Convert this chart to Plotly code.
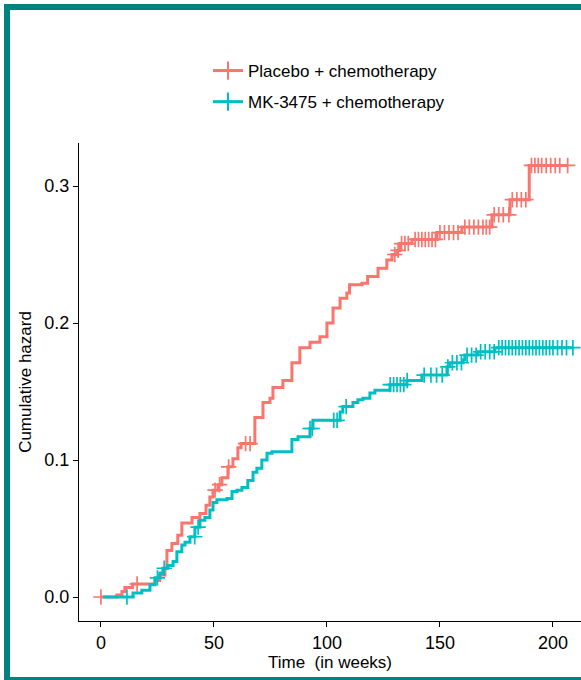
import numpy as np
import plotly.graph_objects as go

# Nelson-Aalen style cumulative hazard
placebo_time = [0, 7, 9.3, 10.6, 14, 24, 26, 28.3, 29.2, 31.4, 34, 35.8, 40.3, 43.8,
                46.5, 48.2, 49.6, 51.8, 53.5, 56.2, 58.4, 60.6, 62, 68.1, 71.7, 74.8,
                76.1, 80.5, 84.5, 88, 92.5, 96.9, 100, 102.7, 105.8, 108.8, 110, 115.5,
                118, 122.6, 126.5, 128.8, 131, 132.3, 137.6, 148.7, 159.7, 173, 181,
                189.5, 206.5]
placebo_haz = [0, 0.0015, 0.004, 0.007, 0.0095, 0.012, 0.016, 0.021, 0.034, 0.039, 0.045,
               0.054, 0.058, 0.061, 0.067, 0.073, 0.078, 0.082, 0.087, 0.095, 0.101, 0.109,
               0.112, 0.131, 0.142, 0.145, 0.153, 0.158, 0.171, 0.182, 0.186, 0.190, 0.200,
               0.211, 0.218, 0.222, 0.228, 0.229, 0.234, 0.240, 0.246, 0.250, 0.253, 0.258,
               0.261, 0.266, 0.270, 0.279, 0.290, 0.315, 0.315]
placebo_censor = [0, 16, 50.5, 52.5, 56.5, 64, 66, 130, 131.5, 133, 134.5, 136, 139, 140.5,
                  142, 143.5, 145, 146.5, 148, 150, 152, 154, 156, 158, 161, 163, 165, 167,
                  169, 170.5, 172, 174, 176, 178, 180.5, 182, 184, 186, 188, 190.5, 192,
                  193.5, 195, 197, 199, 201, 203, 206.5]

mk_time = [1, 12, 14.2, 18.1, 21.7, 23.9, 26.1, 27.4, 29.6, 31.9, 33.6, 35.8, 37.2, 39.4,
           41.6, 43.8, 46, 48.2, 49.6, 51.3, 55.8, 58, 60.2, 62.4, 65, 67.3, 69, 71.2,
           73.5, 75.7, 84.5, 87.2, 92.5, 93.8, 105.8, 107, 111.5, 113.7, 115.9, 119,
           121.2, 127.9, 135.4, 142, 153.1, 154.4, 160.2, 161, 166.8, 174.3, 209]
mk_haz = [0, 0, 0.003, 0.005, 0.009, 0.014, 0.0175, 0.021, 0.023, 0.026, 0.033, 0.038,
          0.040, 0.044, 0.051, 0.056, 0.058, 0.0635, 0.069, 0.071, 0.072, 0.077, 0.078,
          0.080, 0.085, 0.091, 0.094, 0.100, 0.105, 0.106, 0.115, 0.117, 0.123, 0.129,
          0.135, 0.139, 0.142, 0.144, 0.145, 0.149, 0.151, 0.155, 0.158, 0.162, 0.168,
          0.171, 0.173, 0.1766, 0.179, 0.182, 0.182]
mk_censor = [11.5, 25, 28, 41.5, 43, 92.5, 93.5, 103, 104.5, 108.5, 128, 129.5, 131,
             132.5, 134, 135.5, 143, 146, 148.5, 151, 153.5, 155.5, 157.5, 159.5, 162,
             164, 166, 168, 170, 172, 174, 176, 177.5, 179, 180.5, 182, 183.5, 185,
             186.5, 188, 189.5, 191, 192.5, 194, 195.5, 197, 198.5, 200, 202, 204, 206,
             208.8]

groups = [
    ("Placebo + chemotherapy", placebo_time, placebo_haz, placebo_censor, "#F8766D"),
    ("MK-3475 + chemotherapy", mk_time, mk_haz, mk_censor, "#00BFC4"),
]

W, H = 581, 680
L, R, T, B = 79, 0, 143, 59


def step_at(times, haz, t):
    idx = np.searchsorted(times, t, side="right") - 1
    return np.asarray(haz)[np.clip(idx, 0, None)]


fig = go.Figure()
for name, t, h, cens, col in groups:
    fig.add_trace(go.Scatter(x=t, y=h, mode="lines", line=dict(color=col, width=3, shape="hv"),
                             showlegend=False, hoverinfo="skip"))
    fig.add_trace(go.Scatter(x=cens, y=step_at(t, h, cens), mode="markers", showlegend=False,
                             marker=dict(symbol="cross-thin", size=11,
                                         line=dict(color=col, width=1.7))))
    # legend entry only
    fig.add_trace(go.Scatter(x=[None], y=[None], mode="lines+markers", name=name,
                             legendgroup=name, line=dict(color=col, width=3),
                             marker=dict(symbol="cross-thin", size=13,
                                         line=dict(color=col, width=2))))


def px_x(p):
    return (p - L) / (W - L - R)


def px_y(p):
    return (H - B - p) / (H - T - B)


# teal frame round the picture (right side is cut off in the reference)
fig.add_shape(type="rect", xref="paper", yref="paper",
              x0=px_x(7), x1=px_x(620), y0=px_y(7), y1=px_y(680),
              line=dict(color="#00827F", width=6))

axis_font = dict(family="Liberation Sans, Arial", size=18, color="black")
fig.update_layout(
    width=W, height=H,
    margin=dict(l=L, r=R, t=T, b=B),
    plot_bgcolor="white", paper_bgcolor="white",
    font=dict(family="Liberation Sans, Arial", color="black"),
    legend=dict(x=px_x(208), y=px_y(53), xanchor="left", yanchor="top",
                font=dict(size=17, color="black"), bgcolor="rgba(0,0,0,0)",
                tracegroupgap=6),
    xaxis=dict(range=[-9.7, 212.4], tickvals=[0, 50, 100, 150, 200], showgrid=False,
               zeroline=False, showline=True, linecolor="black", linewidth=1.3,
               ticks="outside", ticklen=5, tickcolor="black", tickfont=axis_font,
               title=dict(text="Time  (in weeks)", font=dict(size=17), standoff=4)),
    yaxis=dict(range=[-0.0175, 0.3314], tickvals=[0, 0.1, 0.2, 0.3], tickformat=".1f",
               showgrid=False, zeroline=False, showline=True, linecolor="black",
               linewidth=1.3, ticks="outside", ticklen=5, tickcolor="black",
               tickfont=axis_font,
               title=dict(text="Cumulative hazard", font=dict(size=17), standoff=8)),
)

fig.write_html("out.html", config={"displayModeBar": False},
               post_script="document.body.style.margin='0';")
